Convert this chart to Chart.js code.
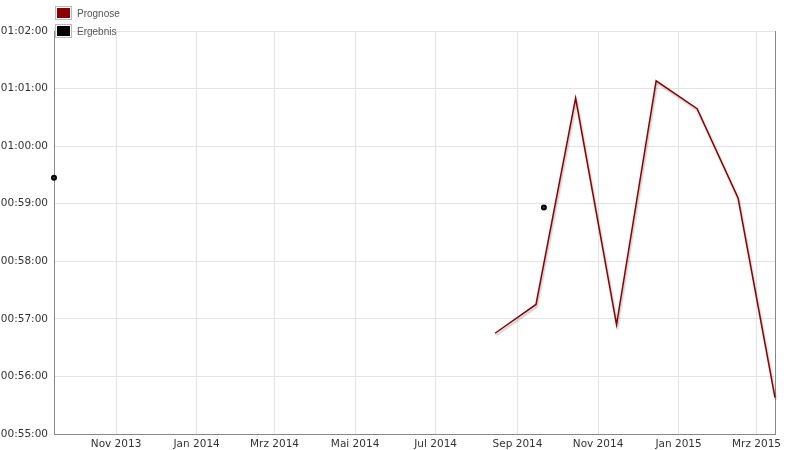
<!DOCTYPE html>
<html>
<head>
<meta charset="utf-8">
<script src="https://cdn.jsdelivr.net/npm/chart.js@4.4.0/dist/chart.umd.min.js"></script>
<style>
    body { margin: 0; background: #fff; }
    #wrap { position: relative; width: 800px; height: 450px; }
    #legend { position: absolute; left: 55px; top: 6px; font: 10px "Liberation Sans", Arial, sans-serif; color: #555; }
    .item { height: 18px; line-height: 15px; }
    .box { display: inline-block; width: 13px; height: 10px; border: 1px solid #bbb; padding: 1px; vertical-align: top; margin-right: 5px; }
    .box span { display: block; width: 13px; height: 10px; }
</style>
</head>
<body>
<div id="wrap">
    <canvas id="chart" width="800" height="450"></canvas>
    <div id="legend">
        <div class="item"><span class="box"><span style="background:#8b0000"></span></span>Prognose</div>
        <div class="item"><span class="box"><span style="background:#000"></span></span>Ergebnis</div>
    </div>
</div>
<script>
const tickDates  = ['2013-11-01','2014-01-01','2014-03-01','2014-05-01','2014-07-01','2014-09-01','2014-11-01','2015-01-01','2015-03-01'];
const tickLabels = ['Nov 2013','Jan 2014','Mrz 2014','Mai 2014','Jul 2014','Sep 2014','Nov 2014','Jan 2015','Mrz 2015'];

// Prognose (Sekunden)
const prognoseDates   = ['2014-08-15','2014-09-15','2014-10-15','2014-11-15','2014-12-15','2015-01-15','2015-02-15','2015-03-15'];
const prognoseSeconds = [3405, 3435, 3650, 3414, 3668, 3639, 3546, 3338];

// Ergebnis (Sekunden)
const ergebnisDates   = ['2013-09-15','2014-09-21'];
const ergebnisSeconds = [3567, 3536];

const xMin = Date.parse('2013-09-15');
const xMax = Date.parse('2015-03-15');

function toPoints(dates, vals) {
    return dates.map((d, i) => ({ x: Date.parse(d), y: vals[i] }));
}

function fmtTime(s) {
    const h = Math.floor(s / 3600);
    const m = Math.floor((s % 3600) / 60);
    const sec = s % 60;
    return [h, m, sec].map(v => String(v).padStart(2, '0')).join(':');
}

const shadowPlugin = {
    id: 'lineShadow',
    beforeDatasetDraw(chart, args) {
        if (args.index !== 0) return;
        const ctx = chart.ctx;
        ctx.save();
        ctx.shadowColor = 'rgba(0,0,0,0.3)';
        ctx.shadowOffsetX = 1;
        ctx.shadowOffsetY = 2;
        ctx.shadowBlur = 2;
    },
    afterDatasetDraw(chart, args) {
        if (args.index !== 0) return;
        chart.ctx.restore();
    }
};

const ctx = document.getElementById('chart').getContext('2d');
new Chart(ctx, {
    type: 'line',
    data: {
        datasets: [{
            label: 'Prognose',
            data: toPoints(prognoseDates, prognoseSeconds),
            borderColor: '#8b0000',
            backgroundColor: '#8b0000',
            borderWidth: 1.5,
            pointRadius: 0,
            tension: 0,
            clip: false
        }, {
            label: 'Ergebnis',
            data: toPoints(ergebnisDates, ergebnisSeconds),
            showLine: false,
            borderColor: '#000',
            backgroundColor: '#444',
            pointRadius: 2,
            pointBorderWidth: 2,
            clip: false
        }]
    },
    options: {
        responsive: false,
        animation: false,
        layout: { padding: { top: 31, right: 25, left: 0, bottom: 0 } },
        plugins: {
            legend: { display: false },
            tooltip: { enabled: false }
        },
        scales: {
            x: {
                type: 'linear',
                min: xMin,
                max: xMax,
                afterBuildTicks: axis => {
                    axis.ticks = tickDates.map(d => ({ value: Date.parse(d) }));
                },
                afterFit: axis => { axis.height = 16; },
                ticks: {
                    autoSkip: false,
                    maxRotation: 0,
                    padding: 4,
                    color: '#333',
                    font: { family: 'DejaVu Sans', size: 10.5 },
                    callback: (v, i) => tickLabels[i]
                },
                grid: { color: '#e3e3e3', drawTicks: false },
                border: { color: '#888' }
            },
            y: {
                min: 3300,
                max: 3720,
                afterFit: axis => { axis.width = 54; },
                ticks: {
                    stepSize: 60,
                    padding: 6,
                    color: '#333',
                    font: { family: 'DejaVu Sans', size: 10.5 },
                    callback: v => fmtTime(v)
                },
                grid: { color: '#e3e3e3', drawTicks: false },
                border: { color: '#888' }
            },
            y2: {
                position: 'right',
                min: 3300,
                max: 3720,
                afterFit: axis => { axis.width = 0; },
                ticks: { display: false },
                grid: { display: false, drawTicks: false },
                border: { color: '#888' }
            }
        }
    },
    plugins: [shadowPlugin]
});
</script>
</body>
</html>
